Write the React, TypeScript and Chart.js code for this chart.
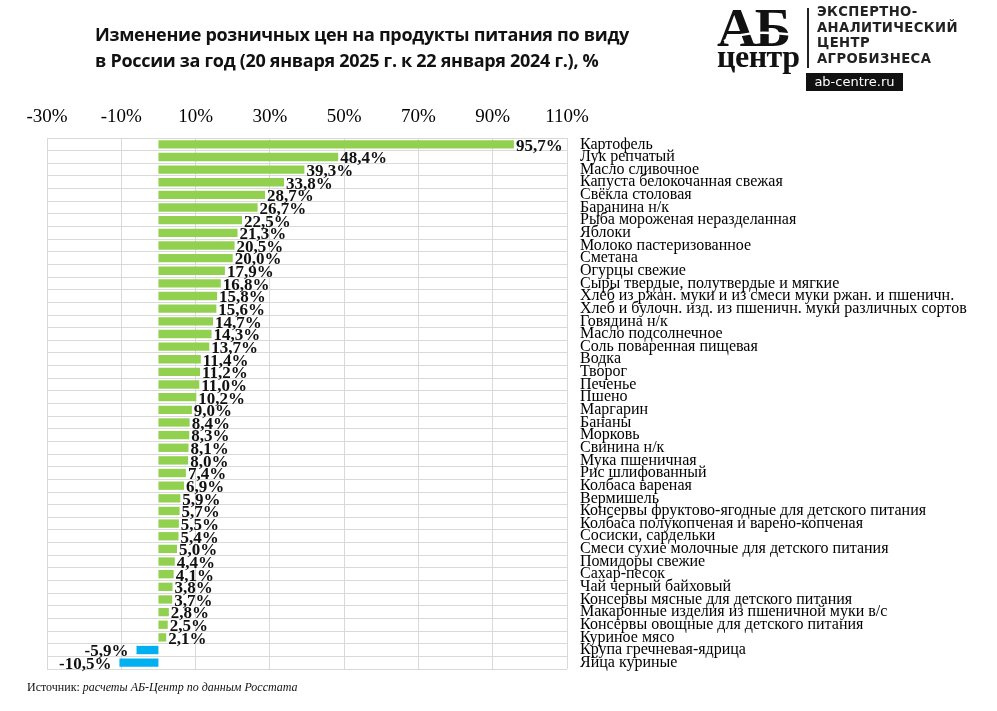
import React, { useEffect, useRef } from "react";
import { Chart, registerables } from "chart.js";

Chart.register(...registerables);

const categories: string[] = [
  "Картофель",
  "Лук репчатый",
  "Масло сливочное",
  "Капуста белокочанная свежая",
  "Свёкла столовая",
  "Баранина н/к",
  "Рыба мороженая неразделанная",
  "Яблоки",
  "Молоко пастеризованное",
  "Сметана",
  "Огурцы свежие",
  "Сыры твердые, полутвердые и мягкие",
  "Хлеб из ржан. муки и из смеси муки ржан. и пшеничн.",
  "Хлеб и булочн. изд. из пшеничн. муки различных сортов",
  "Говядина н/к",
  "Масло подсолнечное",
  "Соль поваренная пищевая",
  "Водка",
  "Творог",
  "Печенье",
  "Пшено",
  "Маргарин",
  "Бананы",
  "Морковь",
  "Свинина н/к",
  "Мука пшеничная",
  "Рис шлифованный",
  "Колбаса вареная",
  "Вермишель",
  "Консервы фруктово-ягодные для детского питания",
  "Колбаса полукопченая и варено-копченая",
  "Сосиски, сардельки",
  "Смеси сухие молочные для детского питания",
  "Помидоры свежие",
  "Сахар-песок",
  "Чай черный байховый",
  "Консервы мясные для детского питания",
  "Макаронные изделия из пшеничной муки в/с",
  "Консервы овощные для детского питания",
  "Куриное мясо",
  "Крупа гречневая-ядрица",
  "Яйца куриные",
];

const values: number[] = [
  95.7, 48.4, 39.3, 33.8, 28.7, 26.7, 22.5, 21.3, 20.5, 20.0, 17.9, 16.8, 15.8,
  15.6, 14.7, 14.3, 13.7, 11.4, 11.2, 11.0, 10.2, 9.0, 8.4, 8.3, 8.1, 8.0, 7.4,
  6.9, 5.9, 5.7, 5.5, 5.4, 5.0, 4.4, 4.1, 3.8, 3.7, 2.8, 2.5, 2.1, -5.9, -10.5,
];

const xTickValues: number[] = [-30, -10, 10, 30, 50, 70, 90, 110];

const title1 = "Изменение розничных цен на продукты питания по виду";
const title2 = "в России за год (20 января 2025 г. к 22 января 2024 г.), %";

const fmt = (v: number) => v.toFixed(1).replace(".", ",") + "%";

const SERIF = "'Liberation Serif', 'Times New Roman', serif";

const valueLabels = {
  id: "valueLabels",
  afterDatasetsDraw(chart: any) {
    const ctx = chart.ctx;
    const meta = chart.getDatasetMeta(0);
    ctx.save();
    ctx.font = `bold 17px ${SERIF}`;
    ctx.fillStyle = "#111";
    ctx.textBaseline = "middle";
    meta.data.forEach((bar: any, i: number) => {
      const v = values[i];
      if (v >= 0) {
        ctx.textAlign = "left";
        ctx.fillText(fmt(v), bar.x + 2, bar.y + 2);
      } else {
        ctx.textAlign = "right";
        ctx.fillText(fmt(v), bar.x - 8, bar.y + 2);
      }
    });
    ctx.restore();
  },
};

function ChartCanvas() {
  const ref = useRef<HTMLCanvasElement | null>(null);
  useEffect(() => {
    if (!ref.current) return;
    const chart = new Chart(ref.current, {
      type: "bar",
      data: {
        labels: categories,
        datasets: [
          {
            data: values,
            backgroundColor: values.map((v) => (v >= 0 ? "#92D050" : "#00B0F0")),
            barPercentage: 0.66,
            categoryPercentage: 1,
          },
        ],
      },
      options: {
        indexAxis: "y",
        responsive: false,
        animation: false,
        layout: { padding: { left: 47, top: 0, right: 0, bottom: 42 } },
        plugins: {
          legend: { display: false },
          tooltip: { enabled: false },
        },
        scales: {
          x: {
            type: "linear",
            position: "top",
            min: -30,
            max: 110,
            afterBuildTicks: (axis: any) => {
              axis.ticks = xTickValues.map((v) => ({ value: v }));
            },
            afterFit: (axis: any) => {
              axis.height = 138;
            },
            ticks: {
              callback: (v: any) => `${v}%`,
              font: { family: SERIF, size: 19 },
              color: "#000",
              padding: 10,
              maxRotation: 0,
            },
            grid: { color: "#D9D9D9", drawTicks: false, lineWidth: 1 },
            border: { display: false },
          },
          y: {
            type: "category",
            position: "right",
            afterFit: (axis: any) => {
              axis.width = 430;
            },
            ticks: {
              font: { family: SERIF, size: 16 },
              color: "#000",
              padding: 13,
              autoSkip: false,
            },
            grid: { color: "#D9D9D9", drawTicks: false, offset: true, lineWidth: 1 },
            border: { display: false },
          },
        },
      },
      plugins: [valueLabels],
    } as any);
    return () => chart.destroy();
  }, []);
  return (
    <canvas
      ref={ref}
      width={997}
      height={711}
      style={{ position: "absolute", left: 0, top: 0, width: 997, height: 711 }}
    />
  );
}

export default function App() {
  useEffect(() => {
    document.body.style.margin = "0";
    document.body.style.background = "#fff";
  }, []);
  return (
    <div style={{ position: "relative", width: 997, height: 711, background: "#fff", overflow: "hidden" }}>
      <ChartCanvas />
      <div
        style={{
          position: "absolute",
          left: 95,
          top: 21,
          fontFamily: "'Open Sans', 'Noto Sans', sans-serif",
          fontWeight: 700,
          fontSize: 18,
          lineHeight: "26px",
          color: "#111",
          whiteSpace: "nowrap",
          letterSpacing: -0.3,
        }}
      >
        <div>{title1}</div>
        <div>{title2}</div>
      </div>
      {/* logo */}
      <div style={{ position: "absolute", left: 716, top: 0, width: 92, height: 72 }}>
        <div
          style={{
            position: "absolute",
            left: 1,
            top: 0,
            fontFamily: SERIF,
            fontWeight: 700,
            fontSize: 55,
            lineHeight: "55px",
            letterSpacing: -2,
            color: "#111",
          }}
        >
          АБ
        </div>
        <svg
          width={92}
          height={60}
          style={{ position: "absolute", left: 0, top: 0 }}
        >
          <path d="M8 41 C 30 30, 55 32, 86 36" stroke="#fff" strokeWidth={2.5} fill="none" />
        </svg>
        <div
          style={{
            position: "absolute",
            left: 1,
            top: 40,
            fontFamily: SERIF,
            fontWeight: 700,
            fontSize: 32,
            lineHeight: "32px",
            letterSpacing: -0.5,
            color: "#111",
          }}
        >
          центр
        </div>
      </div>
      <div style={{ position: "absolute", left: 807, top: 8, width: 2, height: 60, background: "#222" }} />
      <div
        style={{
          position: "absolute",
          left: 817,
          top: 4,
          fontFamily: "'DejaVu Sans', sans-serif",
          fontWeight: 700,
          fontSize: 13.2,
          lineHeight: "15.5px",
          color: "#222",
          letterSpacing: 0.4,
        }}
      >
        <div>ЭКСПЕРТНО-</div>
        <div>АНАЛИТИЧЕСКИЙ</div>
        <div>ЦЕНТР</div>
        <div>АГРОБИЗНЕСА</div>
      </div>
      <div
        style={{
          position: "absolute",
          left: 806,
          top: 73,
          width: 97,
          height: 18,
          background: "#111",
          color: "#fff",
          fontFamily: "'DejaVu Sans', sans-serif",
          fontWeight: 400,
          fontSize: 13,
          lineHeight: "18px",
          textAlign: "center",
        }}
      >
        ab-centre.ru
      </div>
      <div
        style={{
          position: "absolute",
          left: 27,
          top: 680,
          fontFamily: SERIF,
          fontSize: 12,
          color: "#111",
          whiteSpace: "nowrap",
        }}
      >
        Источник: <i>расчеты АБ-Центр по данным Росстата</i>
      </div>
    </div>
  );
}
